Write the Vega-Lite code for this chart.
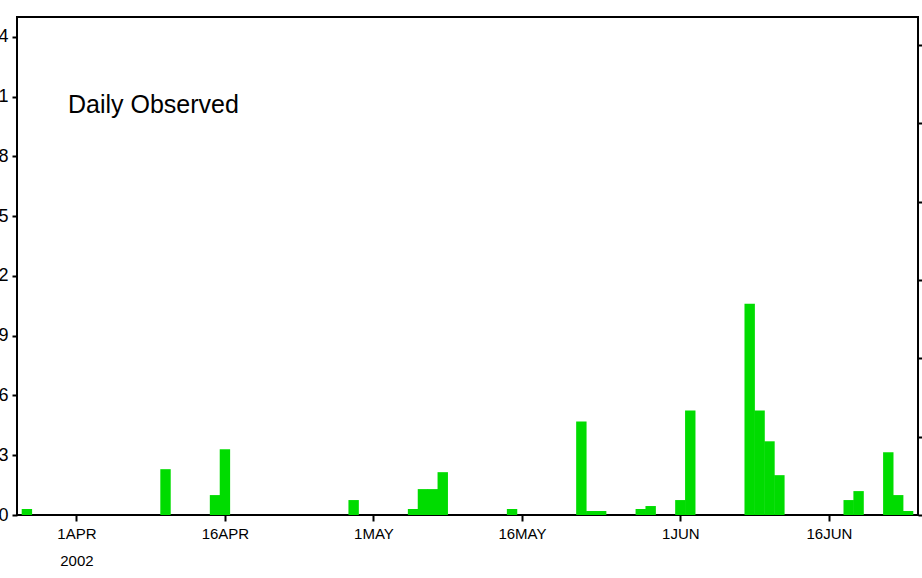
{
  "$schema": "https://vega.github.io/schema/vega-lite/v6.json",
  "width": 901,
  "height": 498,
  "autosize": {"type": "none"},
  "padding": {"left": 17, "top": 17, "right": 4, "bottom": 63},
  "background": "white",
  "title": {
    "text": "Daily Observed",
    "anchor": "start",
    "frame": "group",
    "orient": "top",
    "offset": 0,
    "dx": 51,
    "dy": 121,
    "baseline": "alphabetic",
    "font": "Liberation Sans",
    "fontSize": 25,
    "fontWeight": "normal",
    "color": "black"
  },
  "config": {
    "view": {"stroke": "black", "strokeWidth": 2},
    "axis": {
      "grid": false,
      "domain": false,
      "tickColor": "black",
      "tickWidth": 2,
      "labelColor": "black",
      "labelFont": "Liberation Sans",
      "labelFontSize": 15,
      "title": null
    }
  },
  "data": {
    "values": [
      {"date": "2002-03-27", "precip": 0.3},
      {"date": "2002-04-10", "precip": 2.3},
      {"date": "2002-04-15", "precip": 1.0},
      {"date": "2002-04-16", "precip": 3.3},
      {"date": "2002-04-29", "precip": 0.75},
      {"date": "2002-05-05", "precip": 0.3},
      {"date": "2002-05-06", "precip": 1.3},
      {"date": "2002-05-07", "precip": 1.3},
      {"date": "2002-05-08", "precip": 2.15},
      {"date": "2002-05-15", "precip": 0.3},
      {"date": "2002-05-22", "precip": 4.7},
      {"date": "2002-05-23", "precip": 0.2},
      {"date": "2002-05-24", "precip": 0.2},
      {"date": "2002-05-28", "precip": 0.3},
      {"date": "2002-05-29", "precip": 0.45},
      {"date": "2002-06-01", "precip": 0.75},
      {"date": "2002-06-02", "precip": 5.25},
      {"date": "2002-06-08", "precip": 10.6},
      {"date": "2002-06-09", "precip": 5.25},
      {"date": "2002-06-10", "precip": 3.7},
      {"date": "2002-06-11", "precip": 2.0},
      {"date": "2002-06-18", "precip": 0.75},
      {"date": "2002-06-19", "precip": 1.2},
      {"date": "2002-06-22", "precip": 3.15},
      {"date": "2002-06-23", "precip": 1.0},
      {"date": "2002-06-24", "precip": 0.2}
    ]
  },
  "encoding": {
    "x": {
      "field": "date",
      "type": "temporal",
      "scale": {
        "type": "utc",
        "padding": 0,
        "domain": [
          {"year": 2002, "month": 3, "date": 26, "utc": true},
          {"year": 2002, "month": 6, "date": 25, "utc": true}
        ]
      },
      "axis": {
        "orient": "bottom",
        "values": [
          {"year": 2002, "month": 4, "date": 1, "utc": true},
          {"year": 2002, "month": 4, "date": 16, "utc": true},
          {"year": 2002, "month": 5, "date": 1, "utc": true},
          {"year": 2002, "month": 5, "date": 16, "utc": true},
          {"year": 2002, "month": 6, "date": 1, "utc": true},
          {"year": 2002, "month": 6, "date": 16, "utc": true}
        ],
        "tickSize": 6,
        "labelPadding": 5,
        "labelLineHeight": 27,
        "labelAlign": "center",
        "labelFlush": false,
        "labelOverlap": false,
        "labelExpr": "utcmonth(datum.value) == 3 && utcdate(datum.value) == 1 ? [utcFormat(datum.value, '%-d') + upper(utcFormat(datum.value, '%b')), utcFormat(datum.value, '%Y')] : utcFormat(datum.value, '%-d') + upper(utcFormat(datum.value, '%b'))"
      }
    }
  },
  "layer": [
    {
      "mark": {"type": "bar", "color": "#00dc00", "width": 10.4, "clip": true},
      "encoding": {
        "y": {
          "field": "precip",
          "type": "quantitative",
          "scale": {"domain": [0, 25], "nice": false, "zero": true},
          "axis": {
            "orient": "left",
            "values": [0, 3, 6, 9, 12, 15, 18, 21, 24],
            "tickSize": 5,
            "labelPadding": 4,
            "labelFontSize": 18
          }
        }
      }
    },
    {
      "mark": {"type": "bar", "opacity": 0, "width": 9.9, "clip": true},
      "encoding": {
        "y": {
          "field": "precip",
          "type": "quantitative",
          "axis": {
            "orient": "right",
            "values": [0, 3.934, 7.868, 11.802, 15.736, 19.67, 23.604],
            "labels": false,
            "tickSize": 4
          }
        }
      }
    }
  ],
  "resolve": {"axis": {"y": "independent"}}
}
